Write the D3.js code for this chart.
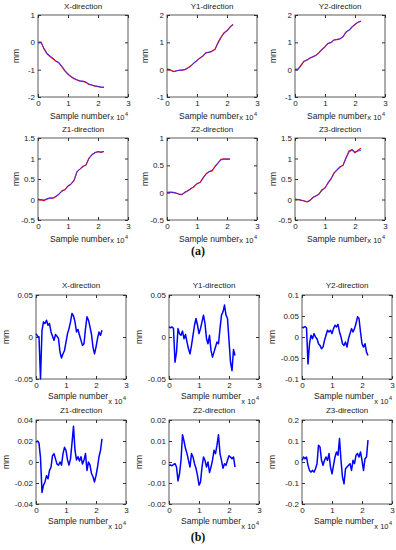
<!DOCTYPE html>
<html><head><meta charset="utf-8">
<script src="https://cdn.jsdelivr.net/npm/d3@7"></script>
<style>
body{margin:0;background:#fff;}
svg{display:block;font-family:"Liberation Sans",Arial,sans-serif;}
</style></head><body>
<svg id="chart" width="396" height="550"></svg>
<script>
// ---------- data ----------
const titles = ['X-direction', 'Y1-direction', 'Y2-direction', 'Z1-direction', 'Z2-direction', 'Z3-direction'];
const xTicks = [0, 1, 2, 3];          // sample number, x 10^4
const stepA = 0.1;                    // sample spacing of (a) series, x 10^4
const stepB = 0.05;                   // sample spacing of (b) series, x 10^4

// (a) displacement, mm: blue = measured, red = reference
const aXBlue  = [0, 0, -0.22, -0.40, -0.50, -0.58, -0.68, -0.74, -0.88, -1.03, -1.15, -1.25, -1.31, -1.37, -1.41, -1.42, -1.45, -1.53, -1.56, -1.59, -1.61, -1.64, -1.64];
const aXRed   = [0, 0.01, -0.24, -0.42, -0.52, -0.60, -0.69, -0.76, -0.90, -1.05, -1.17, -1.26, -1.33, -1.38, -1.42, -1.43, -1.47, -1.54, -1.57, -1.60, -1.62, -1.64, -1.65];
const aY1Blue = [0.02, 0.01, -0.08, -0.04, -0.03, -0.01, 0.01, 0.06, 0.15, 0.24, 0.34, 0.42, 0.51, 0.61, 0.64, 0.67, 0.75, 0.97, 1.19, 1.33, 1.43, 1.55, 1.66];
const aY1Red  = [0.01, 0.00, -0.06, -0.05, -0.02, -0.02, 0.00, 0.07, 0.14, 0.25, 0.33, 0.43, 0.50, 0.62, 0.63, 0.68, 0.74, 0.99, 1.18, 1.35, 1.42, 1.56, 1.65];
const aY2Blue = [0.02, 0.02, 0.18, 0.30, 0.36, 0.42, 0.48, 0.52, 0.63, 0.73, 0.85, 0.95, 1.00, 1.08, 1.11, 1.12, 1.21, 1.37, 1.45, 1.55, 1.66, 1.73, 1.78];
const aY2Red  = [0.00, 0.01, 0.15, 0.31, 0.35, 0.43, 0.47, 0.53, 0.62, 0.74, 0.84, 0.96, 0.99, 1.09, 1.10, 1.13, 1.20, 1.38, 1.44, 1.56, 1.65, 1.74, 1.77];
const aZ1Blue = [0, 0, -0.01, 0.02, 0.03, 0.04, 0.07, 0.14, 0.20, 0.25, 0.32, 0.37, 0.47, 0.67, 0.75, 0.80, 0.85, 1.00, 1.10, 1.15, 1.16, 1.16, 1.17];
const aZ1Red  = [0.01, -0.01, -0.03, 0.01, 0.04, 0.03, 0.08, 0.13, 0.21, 0.24, 0.33, 0.38, 0.46, 0.68, 0.74, 0.81, 0.84, 1.01, 1.09, 1.14, 1.17, 1.15, 1.17];
const aZ2Blue = [0.005, 0.005, 0.01, -0.005, -0.025, -0.03, 0.00, 0.04, 0.07, 0.12, 0.16, 0.19, 0.26, 0.35, 0.38, 0.41, 0.47, 0.55, 0.60, 0.61, 0.62, 0.61];
const aZ2Red  = [0.00, 0.01, 0.00, -0.01, -0.03, -0.035, 0.01, 0.035, 0.075, 0.11, 0.165, 0.185, 0.27, 0.34, 0.385, 0.40, 0.48, 0.54, 0.61, 0.62, 0.61, 0.62];
const aZ3Blue = [0, 0, -0.01, -0.04, -0.05, -0.03, 0.06, 0.08, 0.14, 0.22, 0.29, 0.39, 0.51, 0.63, 0.73, 0.78, 0.84, 1.00, 1.16, 1.20, 1.16, 1.18, 1.20];
const aZ3Red  = [0.01, 0.00, -0.02, -0.03, -0.06, -0.02, 0.05, 0.09, 0.13, 0.24, 0.28, 0.41, 0.50, 0.65, 0.72, 0.80, 0.83, 1.02, 1.18, 1.22, 1.14, 1.20, 1.25];

// (b) residual, mm
const bX  = [0.004, 0.001, 0.000, -0.050, 0.008, 0.018, 0.016, 0.020, 0.014, 0.016, 0.006, 0.001, -0.004, 0.003, 0.001, -0.002, -0.018, -0.025, -0.020, -0.016, -0.006, 0.004, 0.010, 0.018, 0.028, 0.025, 0.018, 0.006, 0.009, 0.002, -0.004, -0.010, -0.008, 0.010, 0.024, 0.020, 0.012, 0.003, -0.012, -0.020, -0.012, -0.002, 0.006, 0.002, 0.008];
const bY1 = [0.012, 0.011, 0.012, 0.010, -0.030, -0.018, 0.010, 0.004, 0.002, 0.007, -0.002, 0.003, -0.006, -0.014, -0.020, -0.010, 0.002, 0.014, 0.022, 0.014, 0.004, 0.010, 0.018, 0.026, 0.016, -0.002, -0.008, 0.002, -0.016, -0.024, -0.018, -0.012, -0.006, -0.008, 0.010, 0.026, 0.030, 0.038, 0.026, 0.022, -0.004, -0.030, -0.040, -0.015, -0.022];
const bY2 = [0.024, 0.022, 0.025, 0.022, -0.064, -0.016, 0.004, -0.004, 0.008, 0.000, -0.004, -0.016, -0.020, -0.028, -0.024, -0.008, 0.004, 0.016, 0.012, 0.016, 0.008, 0.020, 0.028, 0.024, 0.030, 0.012, 0.000, -0.016, -0.020, -0.012, -0.024, -0.004, 0.008, 0.020, 0.012, 0.020, 0.032, 0.048, 0.044, 0.012, -0.016, -0.024, -0.016, -0.036, -0.044];
const bZ1 = [0.019, 0.020, 0.018, 0.004, -0.029, -0.022, -0.019, -0.013, -0.016, -0.008, -0.005, 0.006, 0.008, 0.003, -0.002, -0.003, 0.000, -0.003, 0.008, 0.014, 0.011, 0.002, -0.003, 0.003, 0.018, 0.034, 0.011, 0.002, 0.005, 0.001, 0.005, -0.002, 0.002, 0.008, -0.008, 0.000, -0.003, -0.011, -0.014, -0.019, -0.013, -0.005, 0.005, 0.011, 0.022];
const bZ2 = [-0.0016, -0.0014, -0.0018, -0.0012, -0.0008, -0.0024, -0.0090, -0.0056, 0.0008, 0.0130, 0.0100, 0.0064, 0.0040, 0.0008, -0.0024, 0.0040, 0.0024, -0.0008, -0.0030, -0.0064, -0.0110, -0.0096, -0.0024, 0.0024, 0.0008, -0.0024, 0.0000, -0.0050, -0.0024, 0.0008, 0.0056, 0.0040, 0.0080, 0.0130, 0.0040, 0.0008, -0.0030, -0.0008, -0.0016, 0.0008, 0.0030, 0.0024, 0.0016, 0.0024, -0.0024];
const bZ3 = [0.008, 0.024, 0.016, 0.024, -0.016, -0.040, -0.048, -0.040, -0.048, -0.032, -0.008, 0.080, 0.072, 0.008, -0.016, 0.008, 0.024, 0.008, 0.040, -0.024, -0.056, -0.016, 0.024, 0.048, 0.032, 0.112, 0.008, -0.072, -0.104, -0.032, -0.024, -0.016, -0.008, -0.040, 0.008, -0.008, 0.032, 0.040, 0.024, 0.048, 0.008, -0.040, 0.016, 0.024, 0.104];

// y-axis ticks per panel
const aYTicks = [[-2, -1, 0, 1], [-1, 0, 1, 2], [-1, 0, 1, 2], [-0.5, 0, 0.5, 1, 1.5], [-0.5, 0, 0.5, 1], [-0.5, 0, 0.5, 1, 1.5]];
const bYTicks = [[-0.05, 0, 0.05], [-0.05, 0, 0.05], [-0.1, -0.05, 0, 0.05, 0.1], [-0.04, -0.02, 0, 0.02, 0.04], [-0.02, -0.01, 0, 0.01, 0.02], [-0.2, -0.1, 0, 0.1, 0.2]];

// ---------- layout ----------
const svg = d3.select('#chart');
const boxW = 90;
const aCols = [38, 167, 295], aRows = [[15, 97], [138, 220]];
const bCols = [36, 169, 302], bRows = [[295, 379], [420, 504]];

const aSeries = [[aXRed, aXBlue], [aY1Red, aY1Blue], [aY2Red, aY2Blue], [aZ1Red, aZ1Blue], [aZ2Red, aZ2Blue], [aZ3Red, aZ3Blue]];
const bSeries = [bX, bY1, bY2, bZ1, bZ2, bZ3];

function drawPanel(left, rows, title, ticks, lines, opt) {
    const h = rows[1] - rows[0];
    const g = svg.append('g').attr('transform', `translate(${left},${rows[0]})`);
    const x = d3.scaleLinear().domain([0, 3]).range([0, boxW]);
    const y = d3.scaleLinear().domain(d3.extent(ticks)).range([h, 0]);

    const fmt = d => String(d);
    g.append('g').attr('transform', `translate(0,${h})`)
        .call(d3.axisBottom(x).tickValues(xTicks).tickSizeInner(-3).tickSizeOuter(0).tickPadding(3).tickFormat(fmt));
    g.append('g')
        .call(d3.axisTop(x).tickValues(xTicks).tickSizeInner(-3).tickSizeOuter(0).tickFormat(''));
    g.append('g')
        .call(d3.axisLeft(y).tickValues(ticks).tickSizeInner(-3).tickSizeOuter(0).tickPadding(3).tickFormat(fmt));
    g.append('g').attr('transform', `translate(${boxW},0)`)
        .call(d3.axisRight(y).tickValues(ticks).tickSizeInner(-3).tickSizeOuter(0).tickFormat(''));
    g.selectAll('.domain').remove();
    g.selectAll('.tick line').attr('stroke', '#333');
    g.selectAll('.tick text').attr('font-size', 8).attr('fill', '#222')
        .attr('font-family', '"Liberation Sans",Arial,sans-serif');

    const line = d3.line()
        .x((d, i) => x(i * opt.step))
        .y(d => y(d));
    lines.forEach((vals, k) => {
        g.append('path')
            .attr('d', line(vals))
            .attr('fill', 'none')
            .attr('stroke', opt.colors[k])
            .attr('stroke-width', opt.widths[k])
            .attr('stroke-linejoin', 'round');
    });

    g.append('rect').attr('width', boxW).attr('height', h)
        .attr('fill', 'none').attr('stroke', '#333').attr('stroke-width', 0.8);

    g.append('text').attr('x', boxW / 2).attr('y', -opt.titleGap)
        .attr('text-anchor', 'middle').attr('font-size', 8).attr('fill', '#222').text(title);
    g.append('text').attr('x', boxW / 2 - 3).attr('y', h + opt.labelGap)
        .attr('text-anchor', 'middle').attr('font-size', 8.5).attr('fill', '#222').text('Sample number');
    g.append('text').attr('x', boxW - 3.5).attr('y', h + opt.expGap)
        .attr('text-anchor', 'end').attr('font-size', 7.5).attr('fill', '#222').text('x 10');
    g.append('text').attr('x', boxW - 3).attr('y', h + opt.expGap - 4)
        .attr('font-size', 5.5).attr('fill', '#222').text('4');
    g.append('text')
        .attr('transform', `translate(${-opt.mmGap},${h / 2}) rotate(-90)`)
        .attr('text-anchor', 'middle').attr('font-size', 8.5).attr('fill', '#222').text('mm');
}

titles.forEach((t, i) => {
    const col = i % 3, row = Math.floor(i / 3);
    drawPanel(aCols[col], aRows[row], t, aYTicks[i], aSeries[i],
        {step: stepA, colors: ['#ff0000', '#3030ff'], widths: [1.2, 0.9], titleGap: 6, labelGap: 22, expGap: 23, mmGap: 19});
    drawPanel(bCols[col], bRows[row], t, bYTicks[i], [bSeries[i]],
        {step: stepB, colors: ['#0000ff'], widths: [1.5], titleGap: 7, labelGap: 20, expGap: 25, mmGap: 27});
});

svg.append('text').attr('x', 198).attr('y', 255).attr('text-anchor', 'middle')
    .attr('font-family', '"Liberation Serif","Times New Roman",serif').attr('font-size', 12)
    .attr('font-weight', 'bold').attr('fill', '#111').text('(a)');
svg.append('text').attr('x', 198).attr('y', 541).attr('text-anchor', 'middle')
    .attr('font-family', '"Liberation Serif","Times New Roman",serif').attr('font-size', 12)
    .attr('font-weight', 'bold').attr('fill', '#111').text('(b)');
</script>
</body></html>
